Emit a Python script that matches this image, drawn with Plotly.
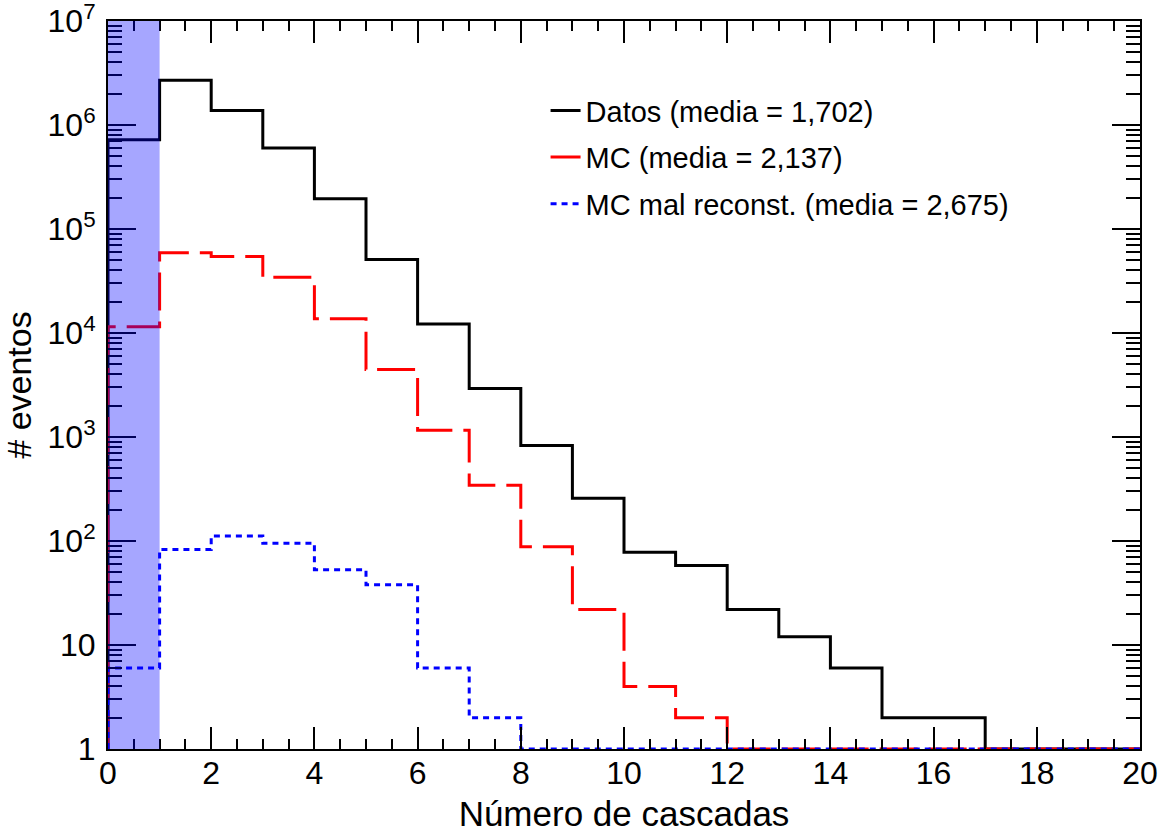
import plotly.graph_objects as go

# ---- data (bin contents, bins of width 1 from 0 to 20) ----
bin_edges = list(range(0, 21))
datos = [7.2e5, 2.7e6, 1.38e6, 6.0e5, 1.95e5, 5.1e4, 1.22e4, 2.93e3, 830, 257,
         78, 58, 22, 12, 6, 2, 2, 0, 0, 0]
mc = [1.15e4, 5.9e4, 5.45e4, 3.43e4, 1.37e4, 4.45e3, 1.16e3, 343, 88, 22,
      4, 2, 0, 0, 0, 0, 0, 0, 0, 0]
mc_mal = [6, 83, 112, 95, 53, 38, 6, 2, 0, 0,
          0, 0, 0, 0, 0, 0, 0, 0, 0, 0]
labels = ["Datos (media = 1,702)", "MC (media = 2,137)", "MC mal reconst. (media = 2,675)"]
highlight = [0, 1]
y_floor = 1
y_tickvals = [1, 10, 100, 1e3, 1e4, 1e5, 1e6, 1e7]
y_ticktext = ["1", "10", "10<sup>2</sup>", "10<sup>3</sup>", "10<sup>4</sup>",
              "10<sup>5</sup>", "10<sup>6</sup>", "10<sup>7</sup>"]
x_title = "Número de cascadas"
y_title = "# eventos"

FONT = "Liberation Sans, Arial, Helvetica, sans-serif"


def step_path(edges, counts, floor):
    xs = [edges[0]]
    ys = [floor]
    for i, c in enumerate(counts):
        v = c if c > floor else floor
        xs += [edges[i], edges[i + 1]]
        ys += [v, v]
    xs.append(edges[-1])
    ys.append(floor)
    return xs, ys


fig = go.Figure()
styles = [
    dict(color="black", width=3, dash="solid"),
    dict(color="#ff0000", width=3, dash="38px,11px"),
    dict(color="#0000ff", width=3, dash="6px,5px"),
]
for i, (series, name, st) in enumerate(zip([datos, mc, mc_mal], labels, styles)):
    xs, ys = step_path(bin_edges, series, y_floor)
    fig.add_trace(go.Scatter(x=xs, y=ys, mode="lines", name=name,
                             line=st, legendgroup=f"g{i}", hoverinfo="skip"))

fig.add_shape(type="rect", xref="x", yref="paper",
              x0=highlight[0], x1=highlight[1], y0=0, y1=1,
              fillcolor="rgba(0,0,255,0.35)", line=dict(width=0), layer="above")

fig.update_layout(
    width=1172, height=834, autosize=False,
    margin=dict(l=108, r=32, t=21, b=85),
    paper_bgcolor="white", plot_bgcolor="white",
    font=dict(family=FONT, color="black"),
    showlegend=True,
    legend=dict(x=0.424, y=0.912, xanchor="left", yanchor="top",
                bgcolor="rgba(0,0,0,0)", font=dict(size=29, family=FONT),
                tracegroupgap=6, traceorder="grouped"),
)
fig.update_xaxes(
    range=[0, 20], tick0=0, dtick=2, ticks="inside", ticklen=22, tickwidth=1.5,
    tickcolor="black", showline=True, linewidth=2, linecolor="black",
    mirror="allticks", showgrid=False, zeroline=False, automargin=False,
    tickfont=dict(size=32, family=FONT), ticklabelstandoff=-5,
    ticklabeloverflow="allow",
    minor=dict(dtick=0.5, tick0=0, ticks="inside", ticklen=10, tickwidth=1.5,
               tickcolor="black", showgrid=False),
    title=dict(text=x_title, font=dict(size=35, family=FONT), standoff=11),
)
minor_vals = [m * 10 ** k for k in range(0, 7) for m in range(2, 10)]
fig.update_yaxes(
    type="log", range=[-0.00001, 7.00001], tickvals=y_tickvals, ticktext=y_ticktext,
    ticks="inside", ticklen=28, tickwidth=2, tickcolor="black",
    showline=True, linewidth=2, linecolor="black", mirror="allticks",
    showgrid=False, zeroline=False, automargin=False,
    tickfont=dict(size=32, family=FONT), ticklabelstandoff=4,
    ticklabeloverflow="allow",
    minor=dict(tickvals=minor_vals, ticks="inside", ticklen=14, tickwidth=2,
               tickcolor="black", showgrid=False),
    title=dict(text=y_title, font=dict(size=34, family=FONT), standoff=8),
)

fig.write_html("out.html")
